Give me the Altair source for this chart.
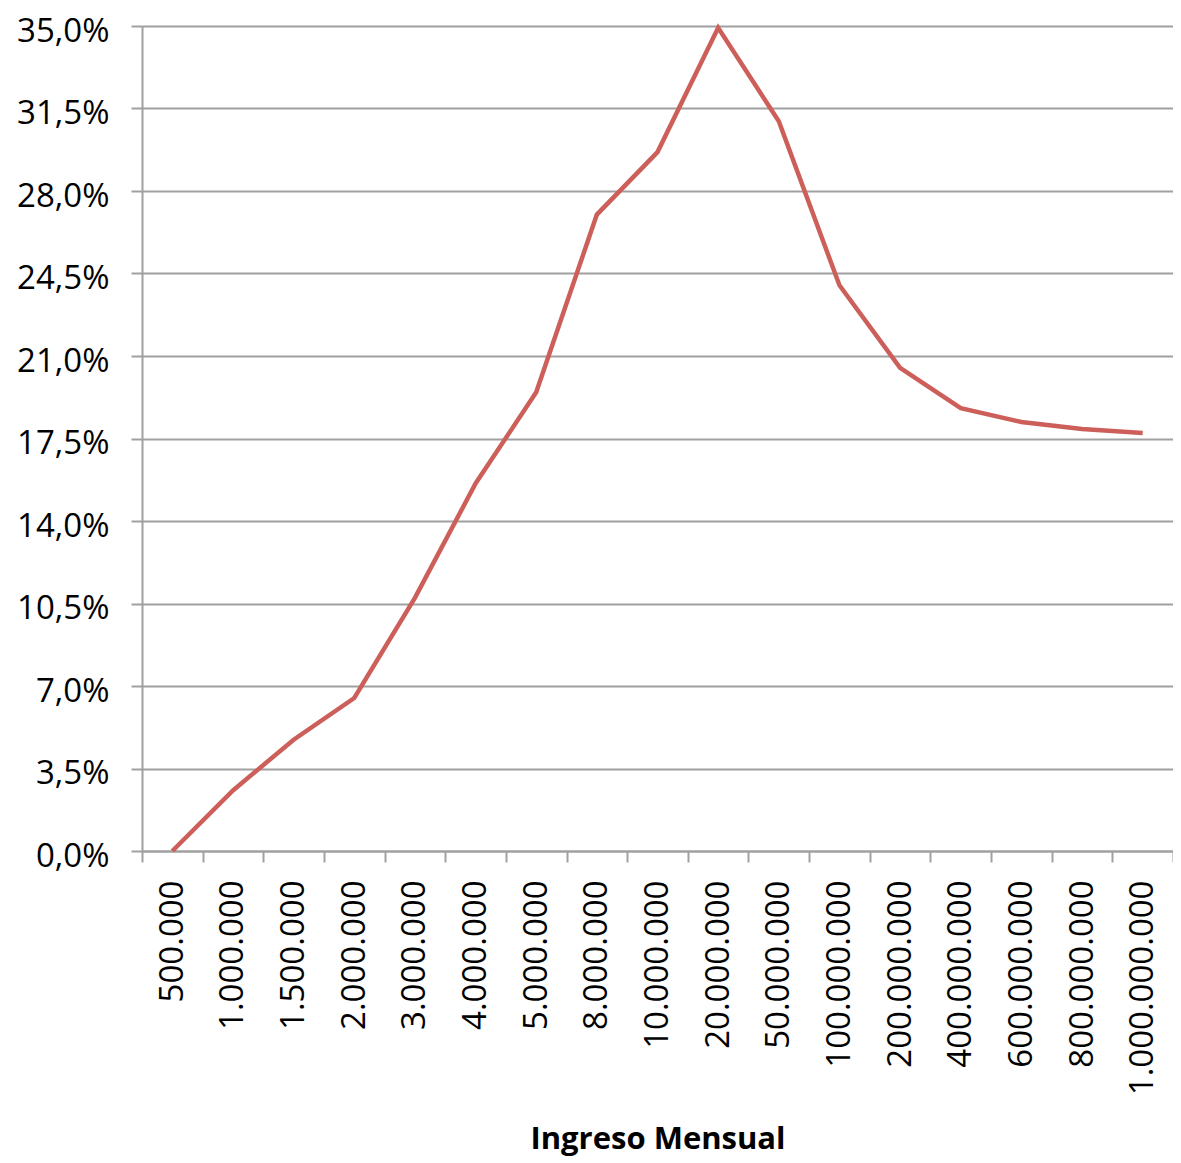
import altair as alt
import pandas as pd

categories = ["500.000", "1.000.000", "1.500.000", "2.000.000", "3.000.000", "4.000.000",
              "5.000.000", "8.000.000", "10.000.000", "20.000.000", "50.000.000",
              "100.000.000", "200.000.000", "400.000.000", "600.000.000",
              "800.000.000", "1.000.000.000"]
values = [0.000, 0.0257, 0.0472, 0.0649, 0.1074, 0.1559, 0.1946, 0.2700, 0.2965,
          0.3492, 0.3096, 0.2400, 0.2050, 0.1879, 0.1820, 0.1790, 0.1773]
y_ticks = [0.0, 0.035, 0.07, 0.105, 0.14, 0.175, 0.21, 0.245, 0.28, 0.315, 0.35]

df = pd.DataFrame({"ingreso": categories, "valor": values})

FONT = "Open Sans"
GRID = "#a0a0a0"

chart = alt.Chart(df).mark_line(color="#CD5F5A", strokeWidth=4.5).encode(
    x=alt.X("ingreso:N", sort=categories,
            scale=alt.Scale(paddingInner=0, paddingOuter=0),
            axis=alt.Axis(title="Ingreso Mensual", labelAngle=-90, labelFontSize=33,
                          labelFont=FONT, labelColor="black", labelLimit=0,
                          tickBand="extent",
                          tickSize=11, tickColor=GRID, tickWidth=2, domainColor=GRID,
                          domainWidth=2, labelPadding=18, titleFont=FONT, titleFontSize=31,
                          titleFontWeight="bold", titleColor="black",
                          titleY=297, titleBaseline="alphabetic",
                          grid=False)),
    y=alt.Y("valor:Q", scale=alt.Scale(domain=[0, 0.35], nice=False),
            axis=alt.Axis(title=None, values=y_ticks,
                          labelExpr="replace(format(datum.value, '.1%'), '.', ',')",
                          labelFontSize=33, labelFont=FONT, labelColor="black",
                          labelOffset=5, labelLimit=0,
                          tickSize=11, tickColor=GRID, tickWidth=2, domainColor=GRID,
                          domainWidth=2, gridColor=GRID, gridWidth=2, gridOpacity=1,
                          labelPadding=22, grid=True)),
).properties(
    width=1031, height=825,
    autosize=alt.AutoSizeParams(type="none"),
    padding={"left": 134, "top": 18, "right": 0, "bottom": 305},
).configure_view(stroke=None)

chart.save("out.html", embed_options={"renderer": "svg", "actions": False})
